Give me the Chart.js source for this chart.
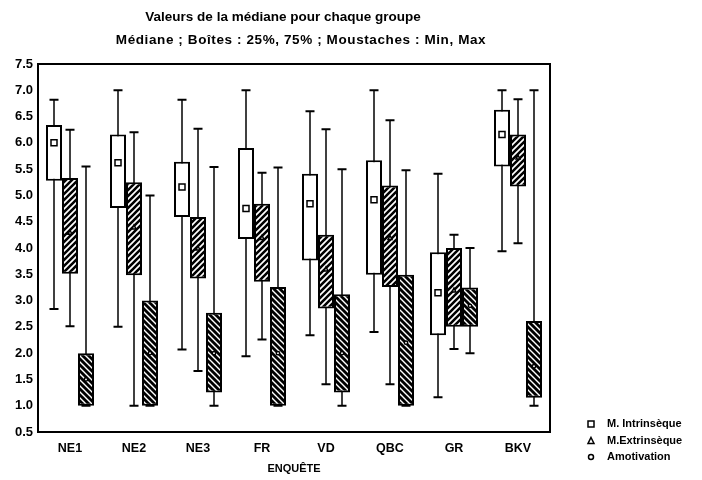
<!DOCTYPE html>
<html>
<head>
<meta charset="utf-8">
<script src="https://cdn.jsdelivr.net/npm/chart.js"></script>
<style>
  html, body { margin: 0; background: #fff; }
  #wrap { width: 702px; height: 480px; }
</style>
</head>
<body>
<div id="wrap"><canvas id="chart"></canvas></div>
<script>
// groupes d'enquête
const categories = ['NE1', 'NE2', 'NE3', 'FR', 'VD', 'QBC', 'GR', 'BKV'];
const yTicks = [0.5, 1.0, 1.5, 2.0, 2.5, 3.0, 3.5, 4.0, 4.5, 5.0, 5.5, 6.0, 6.5, 7.0, 7.5];

// M. Intrinsèque
const intrMin = [2.84, 2.5, 2.07, 1.94, 2.34, 2.4, 1.16, 3.94];
const intrQ1  = [5.28, 4.76, 4.59, 4.17, 3.76, 3.49, 2.34, 5.55];
const intrMed = [6.0, 5.62, 5.16, 4.75, 4.84, 4.92, 3.15, 6.16];
const intrQ3  = [6.34, 6.16, 5.64, 5.9, 5.41, 5.67, 3.92, 6.63];
const intrMax = [6.82, 7.0, 6.82, 7.0, 6.6, 7.0, 5.41, 7.0];

// M. Extrinsèque
const extrMin = [2.51, 1.0, 1.66, 2.26, 1.41, 1.41, 2.08, 4.09];
const extrQ1  = [3.51, 3.48, 3.42, 3.36, 2.85, 3.26, 2.5, 5.17];
const extrMed = [4.3, 4.4, 4.0, 4.2, 3.6, 4.2, 3.2, 5.73];
const extrQ3  = [5.33, 5.25, 4.59, 4.84, 4.25, 5.19, 4.0, 6.16];
const extrMax = [6.25, 6.2, 6.27, 5.43, 6.26, 6.43, 4.25, 6.83];

// Amotivation
const amotMin = [1.0, 1.0, 1.0, 1.0, 1.0, 1.0, 2.0, 1.0];
const amotQ1  = [1.0, 1.0, 1.25, 1.0, 1.25, 1.0, 2.5, 1.15];
const amotMed = [1.5, 2.0, 2.0, 2.0, 2.0, 2.2, 2.9, 1.75];
const amotQ3  = [2.0, 3.0, 2.77, 3.26, 3.12, 3.49, 3.25, 2.61];
const amotMax = [5.55, 5.0, 5.54, 5.53, 5.5, 5.48, 4.0, 7.0];

const FONT = "'Liberation Sans', Arial, sans-serif";

function hatch(bg, fg, dir, lw) {
  const c = document.createElement('canvas');
  c.width = 6; c.height = 6;
  const g = c.getContext('2d');
  g.fillStyle = bg; g.fillRect(0, 0, 6, 6);
  g.strokeStyle = fg; g.lineWidth = lw;
  g.beginPath();
  if (dir > 0) {
    g.moveTo(-1, 7); g.lineTo(7, -1);
    g.moveTo(-4, 4); g.lineTo(4, -4);
    g.moveTo(2, 10); g.lineTo(10, 2);
  } else {
    g.moveTo(-1, -1); g.lineTo(7, 7);
    g.moveTo(-4, 2); g.lineTo(4, 10);
    g.moveTo(2, -4); g.lineTo(10, 4);
  }
  g.stroke();
  return g.createPattern(c, 'repeat');
}

const pair = (a, b) => a.map((v, i) => [v, b[i]]);

const boxPlot = {
  id: 'boxPlot',
  beforeDatasetsDraw(chart) {
    const ctx = chart.ctx, y = chart.scales.y;
    chart.data.datasets.forEach((ds, di) => {
      chart.getDatasetMeta(di).data.forEach((bar, i) => {
        const x = bar.x;
        const top = y.getPixelForValue(ds.maxs[i]);
        const bot = y.getPixelForValue(ds.mins[i]);
        ctx.save();
        ctx.strokeStyle = '#000';
        ctx.lineWidth = 1.5;
        ctx.beginPath();
        ctx.moveTo(x, top); ctx.lineTo(x, bot);
        ctx.stroke();
        ctx.lineWidth = 2;
        ctx.beginPath();
        ctx.moveTo(x - 4.5, top); ctx.lineTo(x + 4.5, top);
        ctx.moveTo(x - 4.5, bot); ctx.lineTo(x + 4.5, bot);
        ctx.stroke();
        ctx.restore();
      });
    });
  },
  afterDatasetsDraw(chart) {
    const ctx = chart.ctx, y = chart.scales.y;
    chart.data.datasets.forEach((ds, di) => {
      chart.getDatasetMeta(di).data.forEach((bar, i) => {
        drawMarker(ctx, ds.marker, bar.x, y.getPixelForValue(ds.meds[i]), di === 0 ? 6 : 4);
      });
    });
  },
  afterDraw(chart) {
    const ctx = chart.ctx, a = chart.chartArea;
    ctx.save();
    ctx.strokeStyle = '#000';
    ctx.lineWidth = 2;
    ctx.strokeRect(a.left, a.top, a.right - a.left, a.bottom - a.top);
    // titre
    ctx.fillStyle = '#000';
    ctx.textAlign = 'center';
    ctx.textBaseline = 'middle';
    ctx.font = 'bold 13.5px ' + FONT;
    ctx.fillText('Valeurs de la médiane pour chaque groupe', 283, 17);
    ctx.letterSpacing = '0.6px';
    ctx.fillText('Médiane ; Boîtes : 25%, 75% ; Moustaches : Min, Max', 301, 40);
    ctx.letterSpacing = '0px';
    // légende
    ctx.textAlign = 'left';
    ctx.font = 'bold 11px ' + FONT;
    chart.data.datasets.forEach((ds, di) => {
      const ly = 424 + di * 16.5;
      drawMarker(ctx, ds.marker, 591, ly, 6);
      ctx.fillStyle = '#000';
      ctx.fillText(ds.label, 607, ly);
    });
    ctx.restore();
  }
};

function drawMarker(ctx, kind, x, y, s) {
  ctx.save();
  ctx.fillStyle = '#fff';
  ctx.strokeStyle = '#000';
  ctx.lineWidth = 1.5;
  ctx.beginPath();
  if (kind === 'rect') {
    ctx.rect(x - s / 2, y - s / 2, s, s);
  } else if (kind === 'triangle') {
    ctx.moveTo(x, y - s / 2); ctx.lineTo(x + s / 2, y + s / 2); ctx.lineTo(x - s / 2, y + s / 2); ctx.closePath();
  } else {
    ctx.arc(x, y, s / 2.4, 0, Math.PI * 2);
  }
  ctx.fill();
  ctx.stroke();
  ctx.restore();
}

new Chart(document.getElementById('chart'), {
  type: 'bar',
  data: {
    labels: categories,
    datasets: [
      { label: 'M. Intrinsèque', data: pair(intrQ1, intrQ3), mins: intrMin, maxs: intrMax, meds: intrMed, marker: 'rect',
        backgroundColor: '#fff', borderColor: '#000', borderWidth: 2, borderSkipped: false },
      { label: 'M.Extrinsèque', data: pair(extrQ1, extrQ3), mins: extrMin, maxs: extrMax, meds: extrMed, marker: 'triangle',
        backgroundColor: hatch('#fff', '#000', 1, 2.6), borderColor: '#000', borderWidth: 2, borderSkipped: false },
      { label: 'Amotivation', data: pair(amotQ1, amotQ3), mins: amotMin, maxs: amotMax, meds: amotMed, marker: 'circle',
        backgroundColor: hatch('#000', '#fff', -1, 1.4), borderColor: '#000', borderWidth: 2, borderSkipped: false }
    ]
  },
  options: {
    responsive: true,
    maintainAspectRatio: false,
    animation: false,
    layout: { padding: { left: 0, right: 152, top: 64, bottom: 0 } },
    categoryPercentage: 0.75,
    barPercentage: 1,
    plugins: { legend: { display: false }, tooltip: { enabled: false } },
    scales: {
      x: {
        grid: { display: false, drawTicks: false },
        border: { display: false },
        ticks: { color: '#000', font: { family: FONT, size: 12.5, weight: 'bold' }, padding: 9 },
        title: { display: true, text: 'ENQUÊTE', color: '#000', font: { family: FONT, size: 11, weight: 'bold' }, padding: { top: 9 } },
        afterFit: s => { s.height = 48; }
      },
      y: {
        min: 0.5,
        max: 7.5,
        afterBuildTicks: s => { s.ticks = yTicks.map(v => ({ value: v })); },
        grid: { display: false, drawTicks: false },
        border: { display: false },
        ticks: { color: '#000', font: { family: FONT, size: 13, weight: 'bold' }, padding: 5, callback: v => v.toFixed(1) },
        afterFit: s => { s.width = 38; }
      }
    }
  },
  plugins: [boxPlot]
});
</script>
</body>
</html>
